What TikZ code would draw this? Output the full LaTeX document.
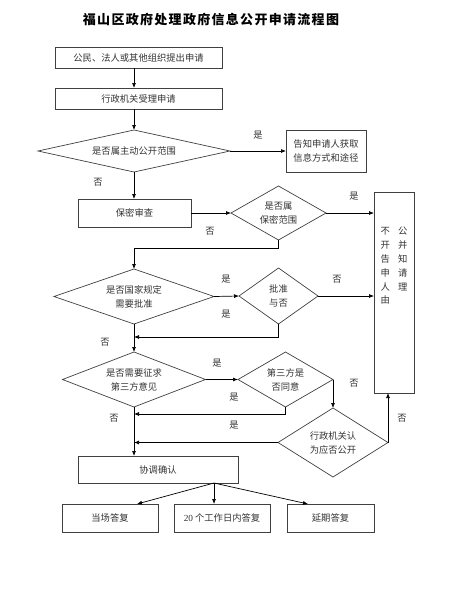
\documentclass[tikz,border=0pt]{standalone}
\usepackage{fontspec}
\setmainfont{Liberation Serif}
\newfontfamily\cjk{Noto Sans CJK SC}
\newfontfamily\cjktitle[LetterSpace=10]{Noto Sans CJK SC}
\usetikzlibrary{shapes.geometric,arrows.meta}
\tikzset{
  box/.style={draw=black!75, line width=0.7pt, rectangle, inner sep=0pt, outer sep=0pt,
    font=\cjk\fontsize{9.3}{14.5}\selectfont, text=black!80, align=center},
  dia/.style={draw=black!75, line width=0.7pt, diamond, inner sep=0pt, outer sep=0pt,
    font=\cjk\fontsize{9.3}{14}\selectfont, text=black!80, align=center},
  arr/.style={draw=black, line width=0.7pt, -{Latex[length=5pt,width=4pt]}},
  lab/.style={font=\cjk\fontsize{9.3}{11}\selectfont, text=black!80, inner sep=0pt}
}
\begin{document}
\begin{tikzpicture}[x=1pt,y=-1pt]
\useasboundingbox (0,0) rectangle (465,600);
\node[font=\cjktitle\bfseries\fontsize{13}{15}\selectfont] (title) at (211,20) {福山区政府处理政府信息公开申请流程图};

\node[box, minimum width=167pt, minimum height=21pt] (b1) at (138.5,57.5) {公民、法人或其他组织提出申请};
\node[box, minimum width=167pt, minimum height=21pt] (b2) at (138.5,98.5) {行政机关受理申请};
\node[dia, minimum width=192pt, minimum height=42pt, aspect=4.57] (d1) at (134,151) {是否属主动公开范围};
\node[box, minimum width=80pt, minimum height=42pt] (b3) at (326,151) {告知申请人获取\\信息方式和途径};
\node[box, minimum width=113pt, minimum height=28pt] (bm) at (134.5,213) {保密审查};
\node[dia, minimum width=95pt, minimum height=54pt, aspect=1.76] (d2) at (278.5,213) {是否属\\保密范围};
\node[box, minimum width=40pt, minimum height=201pt] (big) at (394,292.5) {};
\node[lab, anchor=north, align=left, font=\cjk\fontsize{9.3}{13.8}\selectfont] (bigtxt) at ([yshift=-35pt]big.north) {不\hspace{8pt}公\\开\hspace{8pt}并\\告\hspace{8pt}知\\申\hspace{8pt}请\\人\hspace{8pt}理\\由};
\node[dia, minimum width=160pt, minimum height=55pt, aspect=2.9] (d3) at (134,296.5) {是否国家规定\\需要批准};
\node[dia, minimum width=79pt, minimum height=56pt, aspect=1.41] (d4) at (278.5,296) {批准\\与否};
\node[dia, minimum width=143pt, minimum height=55pt, aspect=2.6] (d5) at (134,379.5) {是否需要征求\\第三方意见};
\node[dia, minimum width=95pt, minimum height=55pt, aspect=1.73] (d6) at (285.5,379.5) {第三方是\\否同意};
\node[dia, minimum width=110pt, minimum height=69pt, aspect=1.6] (d7) at (333,442.5) {行政机关认\\为应否公开};
\node[box, minimum width=160pt, minimum height=27pt] (co) at (158,469.5) {协调确认};
\node[box, minimum width=96pt, minimum height=28pt] (lb) at (110,518) {当场答复};
\node[box, minimum width=96pt, minimum height=28pt] (mb) at (222,518) {{\rmfamily 20} 个工作日内答复};
\node[box, minimum width=87pt, minimum height=28pt] (rb) at (330.5,518) {延期答复};

% connectors
\draw[arr] (b1.south -| d1) -- (b2.north -| d1);
\draw[arr] (b2.south -| d1) -- (d1.north);
\draw[arr] (d1.east) -- (b3.west);
\draw[arr] (d1.south) -- (bm.north -| d1);
\draw[arr] (bm.east) -- (d2.west);
\draw[arr] (d2.east) -- (big.west |- d2.east);
\draw[arr] (d2.south) -- ++(0,8) -| (d3.north);
\draw[arr] (d3.east) -- (d4.west);
\draw[arr] (d4.east) -- (big.west |- d4.east);
\draw[arr] (d4.south) |- ([yshift=-13pt]d3.south);
\draw[arr] (d3.south) -- (d5.north);
\draw[arr] (d5.east) -- (d6.west);
\draw[arr] (d6.south) |- ([yshift=-7pt]d5.south);
\draw[arr] (d6.east) -- (d7.north);
\draw[arr] (d7.west) -- (d7.west -| d5);
\draw[arr] (d7.east) -- (d7.east |- big.south);
\draw[arr] (d5.south) -- (co.north -| d5);
\coordinate (fork) at ([xshift=136pt]co.south west);
\draw[arr] (fork) -- ([xshift=75pt]lb.north west);
\draw[arr] (fork) -- ([xshift=40pt]mb.north west);
\draw[arr] (fork) -- ([xshift=21pt]rb.north west);

% labels
\node[lab] (l1) at (258,135) {是};
\node[lab] (l2) at (98,182) {否};
\node[lab] (l3) at (354,196) {是};
\node[lab] (l4) at (210,231) {否};
\node[lab] (l5) at (226,279) {是};
\node[lab] (l6) at (337,279) {否};
\node[lab] (l7) at (226,314) {是};
\node[lab] (l8) at (105,342) {否};
\node[lab] (l9) at (217,363) {是};
\node[lab] (l10) at (234,397) {是};
\node[lab] (l11) at (354,383) {否};
\node[lab] (l12) at (234,425) {是};
\node[lab] (l13) at (402,418) {否};
\node[lab] (l14) at (114,418) {否};
\end{tikzpicture}
\end{document}
